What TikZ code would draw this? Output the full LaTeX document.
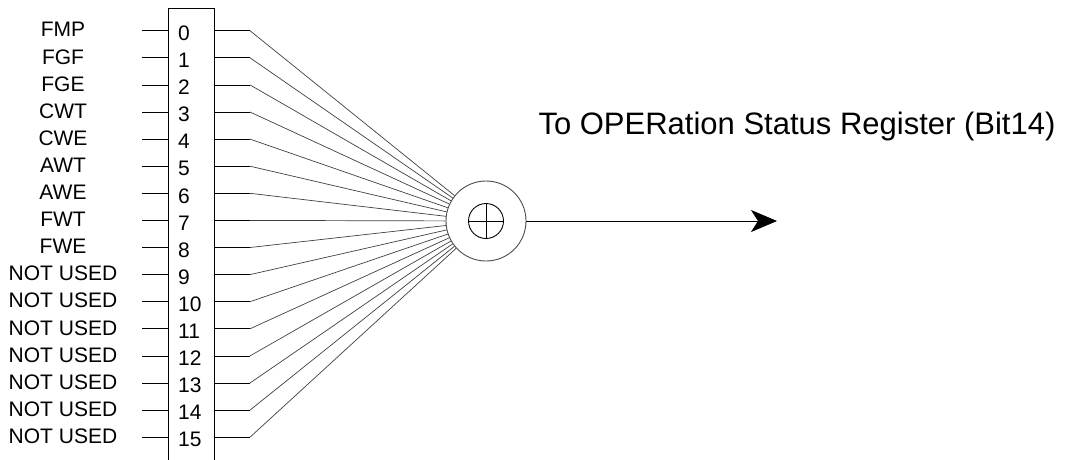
\documentclass[tikz,border=0pt]{standalone}
\usepackage{fontspec}
\setmainfont{Liberation Sans}
\usetikzlibrary{arrows.meta}

\begin{document}
\begin{tikzpicture}[
        x=1pt, y=-1pt,
        every node/.style={font=\fontsize{21}{21}\selectfont},
        wire/.style={draw=black, line width=0.8pt},
        fan/.style={draw=black!75, line width=0.7pt},
        ring/.style={circle, draw=black!70, line width=0.9pt, inner sep=0pt},
        biglab/.style={font=\fontsize{31}{31}\selectfont}
    ]
    \useasboundingbox (0,0) rectangle (1069,459);

    % =============== register box (open at the bottom) ===============
    \draw[wire] (168,470) -- (168,8) -- (214,8) -- (214,470);

    % =============== summing junction ===============
    \node[ring, minimum size=80pt] (sum) at (486,221) {};
    \node[ring, draw=black, minimum size=35pt] (xor) at (sum.center) {};
    \draw[wire] (xor.north) -- (xor.south);
    \draw[wire] (xor.west) -- (xor.east);

    % =============== bits ===============
    \foreach \lab [count=\i from 0] in {FMP,FGF,FGE,CWT,CWE,AWT,AWE,FWT,FWE,
            NOT USED,NOT USED,NOT USED,NOT USED,NOT USED,NOT USED,NOT USED}{
            \pgfmathsetmacro\yy{30.7+27.1*\i}
            \node (lab\i) at (63,\yy-1) {\lab};
            \node[anchor=west, inner sep=0pt] (bit\i) at (178,\yy+2.5) {\i};
            \coordinate (in\i) at (142,\yy);
            \coordinate (out\i) at (250,\yy);
            \draw[wire] (in\i) -- (168,\yy);
            \draw[wire] (214,\yy) -- (out\i);
            \draw[fan] (out\i) -- (sum);
        }

    % =============== output ===============
    \coordinate (tip) at (777,221);
    \draw[wire, -{Stealth[length=26pt, width=22pt, inset=7pt]}] (sum.east) -- (tip);
    \node[biglab, anchor=west] (dest) at (535,126) {To OPERation Status Register (Bit14)};

\end{tikzpicture}
\end{document}
